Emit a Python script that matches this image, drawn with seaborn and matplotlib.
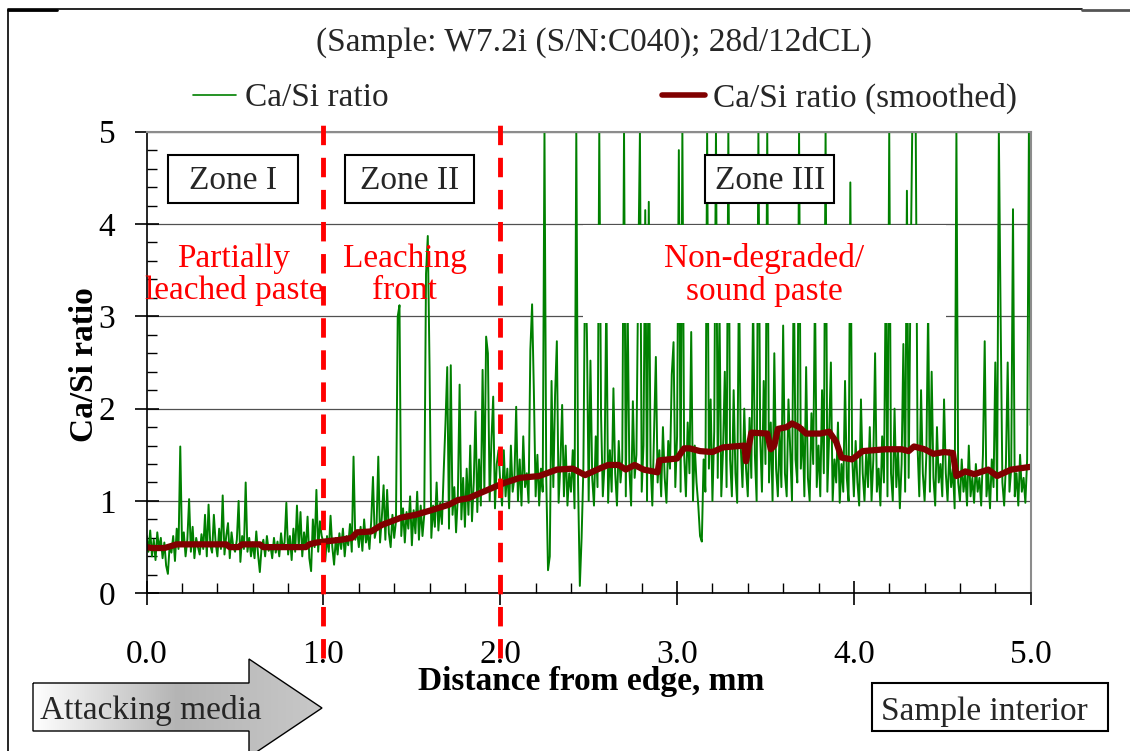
import numpy as np
import matplotlib
matplotlib.use('Agg')
import matplotlib.pyplot as plt
from matplotlib.patches import Rectangle, Polygon
from matplotlib.lines import Line2D
from matplotlib.ticker import MultipleLocator, FormatStrFormatter
from matplotlib.colors import LinearSegmentedColormap
import seaborn as sns

# raw Ca/Si readings, one every 0.01 mm from the exposed edge
step_mm = 0.01
ratio_zone1 = [  # 0.00 - 0.99 mm
    0.62, 0.45, 0.68, 0.40, 0.58, 0.36, 0.66, 0.48, 0.60, 0.38,
    0.55, 0.30, 0.21, 0.52, 0.44, 0.62, 0.35, 0.70, 0.48, 1.59,
    0.52, 0.66, 0.40, 0.58, 1.02, 0.45, 0.72, 0.38, 0.60, 0.50,
    0.42, 0.64, 0.48, 0.85, 0.40, 0.96, 0.52, 0.44, 0.85, 0.55,
    0.40, 0.70, 0.48, 1.06, 0.42, 0.62, 0.76, 0.38, 0.66, 0.50,
    0.45, 0.58, 1.00, 0.34, 0.62, 0.48, 1.20, 0.45, 0.60, 0.40,
    0.55, 0.38, 0.67, 0.42, 0.23, 0.50, 0.58, 0.40, 0.62, 0.46,
    0.52, 0.38, 0.60, 0.44, 0.56, 0.40, 0.65, 0.48, 0.55, 0.98,
    0.42, 0.62, 0.36, 0.70, 0.45, 0.95, 0.50, 0.88, 0.40, 0.66,
    0.48, 0.83, 0.38, 0.24, 0.80, 0.50, 1.12, 0.45, 0.78, 0.62,
]
ratio_zone2 = [  # 1.00 - 1.99 mm
    0.55, 0.35, 0.62, 0.45, 0.84, 0.50, 0.31, 0.60, 0.42, 0.65,
    0.48, 0.70, 0.40, 0.62, 0.52, 0.75, 0.45, 1.48, 0.58, 0.68,
    0.50, 0.72, 0.46, 0.80, 0.55, 0.66, 0.48, 0.78, 1.26, 0.60,
    0.70, 1.48, 0.55, 0.82, 1.17, 0.58, 1.12, 0.65, 0.50, 0.85,
    0.60, 0.78, 3.00, 3.12, 0.62, 0.92, 0.55, 0.88, 0.70, 1.05,
    0.52, 0.90, 0.65, 1.10, 0.58, 0.95, 0.62, 0.85, 3.46, 3.87,
    2.45, 0.60, 0.95, 0.72, 1.20, 0.68, 0.98, 0.75, 1.32, 1.84,
    2.45, 0.70, 2.47, 0.85, 1.15, 0.66, 1.05, 2.26, 0.80, 1.25,
    0.72, 1.35, 0.85, 1.60, 0.78, 1.20, 1.97, 0.88, 1.45, 0.95,
    2.42, 1.10, 2.78, 2.60, 1.00, 1.65, 2.13, 0.92, 1.40, 1.55,
]
ratio_zone3 = [  # 2.00 - 5.00 mm
    1.20, 0.95, 1.55, 1.05, 1.35, 0.92, 1.60, 1.10, 1.25, 2.02,
    1.00, 1.45, 0.95, 1.70, 1.15, 1.30, 0.98, 2.63, 3.13, 2.19,
    1.05, 1.50, 0.95, 1.35, 1.10, 5.00, 1.25, 0.25, 0.40, 2.30,
    1.15, 2.15, 2.73, 0.98, 1.40, 2.04, 1.05, 1.60, 0.95, 1.30,
    1.10, 1.55, 0.92, 5.00, 1.20, 0.08, 0.60, 1.35, 3.65, 2.81,
    1.00, 2.52, 1.25, 0.95, 1.70, 1.15, 5.00, 1.93, 1.05, 1.40,
    3.30, 0.98, 1.55, 1.10, 2.22, 1.30, 0.95, 1.65, 1.20, 1.45,
    5.00, 1.05, 3.20, 1.35, 0.95, 2.08, 1.25, 1.50, 3.40, 5.00,
    1.10, 1.60, 4.15, 1.00, 4.24, 1.40, 0.95, 1.75, 2.56, 1.20,
    1.55, 1.05, 1.80, 1.25, 0.98, 1.65, 1.35, 2.37, 2.72, 1.15,
    1.70, 4.80, 1.10, 5.00, 1.50, 1.05, 1.85, 1.30, 2.83, 1.00,
    1.60, 1.20, 0.95, 0.62, 0.56, 1.45, 1.10, 5.00, 1.35, 2.10,
    1.00, 1.75, 5.00, 1.25, 3.10, 1.05, 1.55, 2.40, 1.15, 5.00,
    1.45, 1.05, 2.20, 1.30, 0.98, 3.50, 1.60, 1.15, 2.00, 1.35,
    1.05, 1.90, 1.25, 3.20, 1.50, 1.00, 5.00, 1.70, 1.10, 2.30,
    1.40, 5.00, 1.20, 1.85, 1.00, 2.60, 1.35, 1.05, 1.75, 1.15,
    2.90, 1.30, 1.05, 2.10, 1.55, 1.00, 3.60, 1.45, 1.20, 5.00,
    1.35, 1.80, 1.05, 2.45, 1.25, 1.00, 1.95, 1.40, 3.30, 1.15,
    1.60, 1.05, 2.20, 1.30, 5.00, 1.10, 1.70, 2.50, 1.00, 1.45,
    1.20, 1.85, 0.98, 1.40, 1.10, 2.30, 1.25, 1.00, 4.45, 1.50,
    1.05, 1.65, 1.20, 0.95, 2.10, 1.30, 1.00, 1.55, 1.15, 1.80,
    1.00, 1.45, 2.60, 1.10, 1.35, 0.95, 1.70, 1.20, 3.40, 1.05,
    5.00, 1.30, 1.00, 2.00, 1.15, 1.55, 0.92, 1.40, 2.70, 1.10,
    4.36, 1.25, 3.30, 5.00, 5.00, 5.00, 1.60, 1.05, 2.20, 1.30,
    1.00, 1.50, 3.10, 1.10, 2.40, 1.25, 0.95, 1.80, 1.20, 1.40,
    1.05, 2.10, 1.30, 1.00, 1.55, 1.15, 1.35, 0.92, 5.00, 1.20,
    1.00, 1.45, 1.10, 1.30, 0.95, 1.60, 1.05, 1.25, 0.98, 1.40,
    1.10, 1.25, 0.95, 1.50, 2.73, 1.05, 1.30, 0.92, 1.45, 1.15,
    2.50, 1.00, 5.00, 3.00, 1.20, 0.95, 1.40, 2.50, 1.10, 1.35,
    4.16, 1.05, 1.30, 0.95, 1.50, 1.10, 1.25, 0.98, 1.45, 5.00,
    1.82,
]

# smoothed curve, read at its corners
smooth_dist = [0.00, 0.03, 0.10, 0.17, 0.45, 0.47, 0.52, 0.54, 0.64, 0.66,
               0.90, 0.92, 0.96, 1.05, 1.10, 1.16, 1.19, 1.27, 1.33, 1.44,
               1.52, 1.61, 1.71, 1.76, 1.82, 1.88, 1.99, 2.03, 2.11, 2.22,
               2.32, 2.41, 2.48, 2.56, 2.61, 2.67, 2.71, 2.76, 2.81, 2.89,
               2.90, 3.00, 3.04, 3.07, 3.13, 3.20, 3.26, 3.38, 3.39, 3.42,
               3.51, 3.53, 3.55, 3.57, 3.62, 3.65, 3.69, 3.73, 3.81, 3.86,
               3.90, 3.93, 3.99, 4.05, 4.18, 4.27, 4.31, 4.34, 4.40, 4.45,
               4.51, 4.56, 4.58, 4.63, 4.68, 4.76, 4.81, 4.89, 5.00]
smooth_ratio = [0.50, 0.49, 0.49, 0.53, 0.53, 0.50, 0.50, 0.53, 0.53, 0.50,
                0.50, 0.53, 0.55, 0.57, 0.58, 0.60, 0.66, 0.67, 0.74, 0.82,
                0.85, 0.90, 0.96, 1.01, 1.03, 1.08, 1.17, 1.20, 1.25, 1.27,
                1.34, 1.35, 1.28, 1.35, 1.39, 1.39, 1.34, 1.39, 1.34, 1.31,
                1.44, 1.46, 1.57, 1.57, 1.54, 1.53, 1.58, 1.60, 1.43, 1.74,
                1.73, 1.56, 1.60, 1.78, 1.80, 1.84, 1.80, 1.73, 1.73, 1.75,
                1.64, 1.47, 1.45, 1.54, 1.56, 1.56, 1.54, 1.59, 1.56, 1.51,
                1.53, 1.52, 1.27, 1.32, 1.29, 1.34, 1.27, 1.34, 1.37]

zone_bounds = [1.0, 2.0]
zone_names = ['Zone I', 'Zone II', 'Zone III']
zone_notes = ['Partially\nleached paste', 'Leaching\nfront', 'Non-degraded/\nsound paste']

ratio = np.array(ratio_zone1 + ratio_zone2 + ratio_zone3)
dist = np.round(np.arange(len(ratio)) * step_mm, 2)

sns.set_theme(style='white')
plt.rcParams['font.family'] = ['Liberation Serif', 'DejaVu Serif']
FS = 24

fig = plt.figure(figsize=(11.3, 7.51), dpi=100)

# background layer in pixel coords for the frame and the outside boxes
bg = fig.add_axes([0, 0, 1, 1])
bg.axis('off')

arrow = Polygon([(33, 683), (249, 683), (249, 659), (322, 708), (249, 757), (249, 731), (33, 731)],
                closed=True, facecolor='none', edgecolor='black', lw=1.0, zorder=3)
bg.add_patch(arrow)
grad = np.linspace(0, 1, 256).reshape(1, -1)
cmap = LinearSegmentedColormap.from_list('arr', ['#ffffff', '#b4b4b4', '#c8c8c8'])
im = bg.imshow(grad, cmap=cmap, extent=(33, 322, 757, 659), aspect='auto', zorder=2)
im.set_clip_path(arrow)
bg.text(40, 710, 'Attacking media', fontsize=FS, va='center', ha='left', zorder=4)

bg.add_patch(Rectangle((872, 683), 236, 48, facecolor='white', edgecolor='black', lw=1.5, zorder=3))
bg.text(881, 712, 'Sample interior', fontsize=FS, va='center', ha='left', zorder=4)

bg.plot([8, 8, 1082], [751, 9, 9], color='black', lw=1.2)
bg.plot([8, 57], [10, 10], color='black', lw=2)
bg.plot([1082, 1130], [10, 10], color='#555555', lw=2)
bg.set_xlim(0, 1130)
bg.set_ylim(751, 0)

ax = fig.add_axes([0.1298, 0.21, 0.7823, 0.6147])

sns.lineplot(x=dist, y=ratio, ax=ax, color='#008000', lw=1.4, zorder=2)
sns.lineplot(x=smooth_dist, y=smooth_ratio, ax=ax, color='#800000', lw=4.5, zorder=2.5)

ax.vlines(zone_bounds, -0.70, 5.10, colors='#ff0000', lw=3.5,
          linestyles=(0, (4, 2.6)), zorder=4, clip_on=False)

ax.set_xlim(0, 5)
ax.set_ylim(0, 5)
ax.xaxis.set_major_locator(MultipleLocator(1))
ax.xaxis.set_minor_locator(MultipleLocator(0.2))
ax.xaxis.set_major_formatter(FormatStrFormatter('%.1f'))
ax.yaxis.set_major_locator(MultipleLocator(1))
ax.yaxis.set_minor_locator(MultipleLocator(0.2))
ax.tick_params(which='both', bottom=True, left=True, color='black')
ax.tick_params(which='major', direction='inout', length=17, width=1.2, labelsize=FS, labelcolor='black')
ax.tick_params(which='minor', direction='in', length=7, width=1.0)
ax.tick_params(axis='x', which='major', pad=25)
ax.tick_params(axis='y', which='major', pad=14)

ax.yaxis.grid(True, color='#505050', lw=0.9)
ax.xaxis.grid(False)
for side in ['top', 'right']:
    ax.spines[side].set_color('#8c8c8c')
    ax.spines[side].set_linewidth(1.5)
for side in ['left', 'bottom']:
    ax.spines[side].set_color('black')
    ax.spines[side].set_linewidth(1.2)

ax.set_xlabel('Distance from edge, mm', fontsize=FS, fontweight='bold', color='black')
ax.set_ylabel('Ca/Si ratio', fontsize=FS, fontweight='bold', color='black')
ax.xaxis.set_label_coords(0.503, -0.157)
ax.yaxis.set_label_coords(-0.053, 0.495)

# white patch behind the zone III note
ax.add_patch(Rectangle((0.4936, 0.5856), 0.4106, 0.2114, transform=ax.transAxes,
                       facecolor='white', edgecolor='none', zorder=3))

box_x = [(0.0236, 0.1712), (0.2245, 0.3708), (0.632, 0.778)]
note_x = [0.0988, 0.292, 0.6985]
for (x0, x1), name, nx, note in zip(box_x, zone_names, note_x, zone_notes):
    ax.add_patch(Rectangle((x0, 0.8455), x1 - x0, 0.104, transform=ax.transAxes,
                           facecolor='white', edgecolor='black', lw=1.5, zorder=3.2))
    ax.text((x0 + x1) / 2, 0.894, name, transform=ax.transAxes, fontsize=FS,
            ha='center', va='center', zorder=3.5)
    ax.text(nx, 0.6896, note, transform=ax.transAxes, fontsize=FS, color='#ff0000',
            ha='center', va='center', linespacing=1.05, zorder=3.5)

fig.text(0.526, 1 - 42 / 751, '(Sample: W7.2i (S/N:C040); 28d/12dCL)', fontsize=FS,
         ha='center', va='center')

handles = [Line2D([], [], color='#008000', lw=1.2), Line2D([], [], color='#800000', lw=4)]
fig.legend(handles=handles, labels=['Ca/Si ratio', 'Ca/Si ratio (smoothed)'],
           loc='center left', bbox_to_anchor=(193 / 1130, 1 - 98 / 751), ncol=2,
           frameon=False, fontsize=FS, handlelength=1.3, handletextpad=0.25,
           columnspacing=8.2, borderpad=0, borderaxespad=0)

fig.savefig('out.png', dpi=100, facecolor='white')
